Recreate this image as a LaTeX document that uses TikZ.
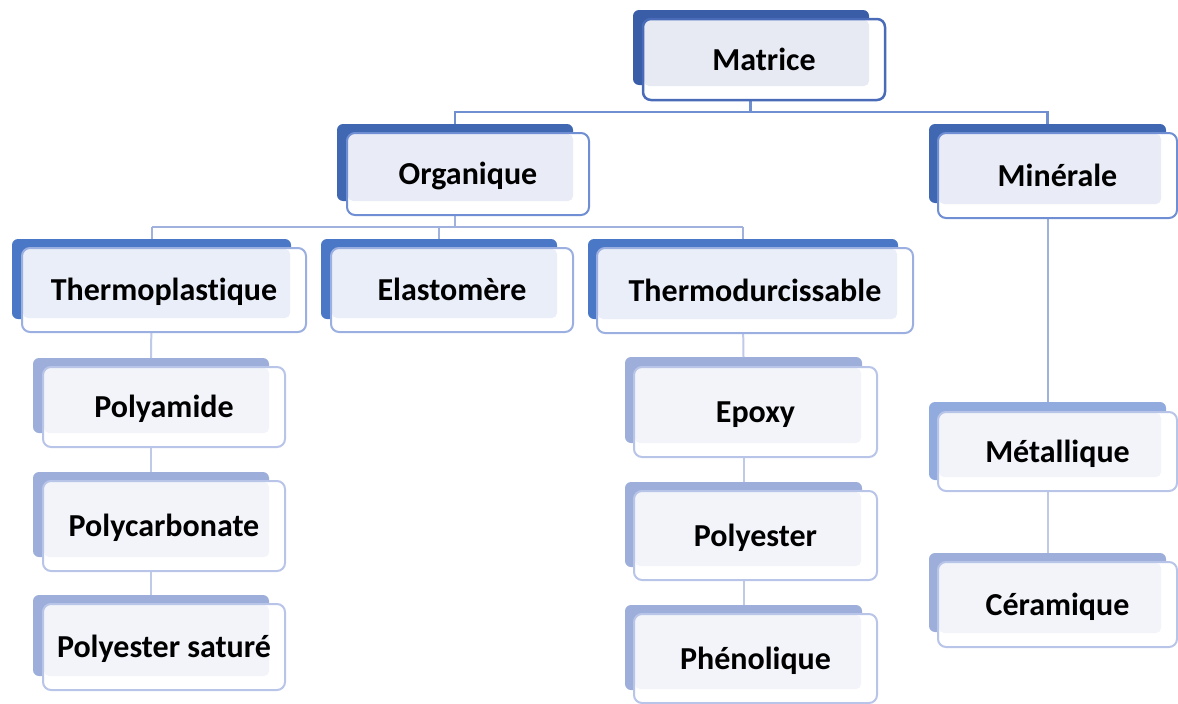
\documentclass[tikz,border=0pt]{standalone}
\usepackage{fontspec}
\setmainfont{Carlito}[Ligatures=NoCommon]
\usetikzlibrary{positioning,calc}

\definecolor{backA}{HTML}{3A5DA8}
\definecolor{backB}{HTML}{3F67B2}
\definecolor{backC}{HTML}{4A77C6}
\definecolor{backD}{HTML}{9DAEDA}
\definecolor{backE}{HTML}{91ABDF}
\definecolor{edgeA}{HTML}{4A6CB8}
\definecolor{edgeB}{HTML}{6F8ED3}
\definecolor{edgeC}{HTML}{9BAFE0}
\definecolor{edgeD}{HTML}{B9C5E8}
\definecolor{lightA}{HTML}{E7EAF3}
\definecolor{lightB}{HTML}{E9ECF6}
\definecolor{lightC}{HTML}{EAEEF8}
\definecolor{lightD}{HTML}{F2F4FA}
\definecolor{linkA}{HTML}{6F8FD0}
\definecolor{linkB}{HTML}{A0B1DE}
\definecolor{linkC}{HTML}{BFCAE9}

\begin{document}
\begin{tikzpicture}[x=1pt, y=-1pt, font=\bfseries\fontsize{32}{36}\selectfont]
        \tikzset{
            back/.style={rectangle, rounded corners=6, anchor=north west, outer sep=0, inner sep=0, fill=#1},
            front/.style 2 args={rectangle, rounded corners=8, anchor=north west, outer sep=0, inner sep=0,
                text height=24pt, text depth=3pt,
                fill=white, draw=#1, line width=2, text=black,
                path picture={\fill[#2, rounded corners=5]
                    ([shift={(1,1)}]path picture bounding box.north west) rectangle
                    ([shift={(-16,-14)}]path picture bounding box.south east);}},
            link/.style={draw=#1, line width=2}
        }
        \useasboundingbox (0,0) rectangle (1178,704);

        % connectors
        \draw[link=linkA, line width=2.5] (750.5,85) -- ++(0,27) -| (455,124);
        \draw[link=linkA, line width=2.5] (750.5,85) -- ++(0,27) -| (1047.5,124);

        % level 1
        \node[back=backA, minimum width=236, minimum height=75] (matB) at (633,10) {};
        \node[front={edgeA}{lightA}, line width=2.5, minimum width=242, minimum height=81] (mat) at (643,19) {Matrice};

        % level 2
        \node[back=backB, minimum width=236, minimum height=77] (orgB) at (337,124) {};
        \node[back=backB, minimum width=237, minimum height=79] (minB) at (929,124) {};

        % level 3
        \node[back=backC, minimum width=279, minimum height=80] (tplB) at (12,239) {};
        \node[back=backC, minimum width=236, minimum height=80] (elaB) at (321,239) {};
        \node[back=backC, minimum width=310, minimum height=80] (tdcB) at (588,239) {};

        % level 4
        \node[back=backD, minimum width=236, minimum height=75] (pamB) at (33,358) {};
        \node[back=backD, minimum width=236, minimum height=85] (pcbB) at (33,472) {};
        \node[back=backD, minimum width=236, minimum height=81] (pesB) at (33,595) {};
        \node[back=backD, minimum width=237, minimum height=86] (epoB) at (625,357) {};
        \node[back=backD, minimum width=237, minimum height=85] (plyB) at (625,482) {};
        \node[back=backD, minimum width=237, minimum height=85] (phnB) at (625,605) {};
        \node[back=backE, minimum width=237, minimum height=78] (metB) at (929,402) {};
        \node[back=backD, minimum width=237, minimum height=79] (cerB) at (929,553) {};

        % connectors below
        \path[link=linkB]
            (orgB.south) edge (orgB.south |- 0,227)
            (orgB.south |- 0,227) edge (tplB.north |- 0,227)
            (orgB.south |- 0,227) edge (tdcB.north |- 0,227)
            (tplB.north |- 0,227) edge (tplB.north)
            (elaB.north |- 0,227) edge (elaB.north)
            (tdcB.north |- 0,227) edge (tdcB.north)
            (minB.south) edge (metB.north)
        ;
        \path[link=linkC]
            (tplB.south) edge (pamB.north)
            (pamB.south) edge (pcbB.north)
            (pcbB.south) edge (pesB.north)
            (tdcB.south) edge (epoB.north)
            (epoB.south) edge (plyB.north)
            (plyB.south) edge (phnB.north)
            (metB.south) edge (cerB.north)
        ;

        % front boxes
        \node[front={edgeB}{lightB}, minimum width=242, minimum height=82] (org) at (347,133) {Organique};
        \node[front={edgeB}{lightB}, minimum width=239, minimum height=85] (min) at (938,133) {Minérale};
        \node[front={edgeC}{lightC}, minimum width=284, minimum height=84] (tpl) at (22,248) {Thermoplastique};
        \node[front={edgeC}{lightC}, minimum width=242, minimum height=84] (ela) at (331,248) {Elastomère};
        \node[front={edgeC}{lightC}, minimum width=316, minimum height=85] (tdc) at (597,248) {Thermodurcissable};
        \node[front={edgeD}{lightD}, minimum width=242, minimum height=80] (pam) at (43,367) {Polyamide};
        \node[front={edgeD}{lightD}, minimum width=242, minimum height=90] (pcb) at (43,481) {Polycarbonate};
        \node[front={edgeD}{lightD}, minimum width=242, minimum height=86] (pes) at (43,604) {Polyester saturé};
        \node[front={edgeD}{lightD}, minimum width=243, minimum height=90] (epo) at (634,367) {Epoxy};
        \node[front={edgeD}{lightD}, minimum width=243, minimum height=89] (ply) at (634,491) {Polyester};
        \node[front={edgeD}{lightD}, minimum width=243, minimum height=89] (phn) at (634,614) {Phénolique};
        \node[front={edgeD}{lightD}, minimum width=239, minimum height=79] (met) at (938,412) {Métallique};
        \node[front={edgeD}{lightD}, minimum width=239, minimum height=85] (cer) at (938,562) {Céramique};
    \end{tikzpicture}
\end{document}
